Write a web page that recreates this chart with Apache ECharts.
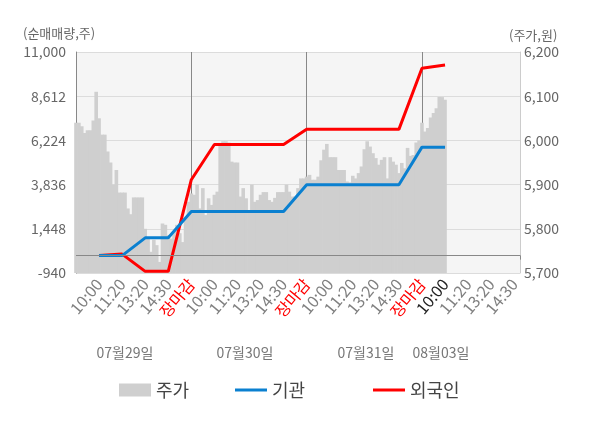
<!DOCTYPE html>
<html>
<head>
<meta charset="utf-8">
<script src="https://cdn.jsdelivr.net/npm/echarts@6/dist/echarts.min.js"></script>
<style>
html, body { margin: 0; padding: 0; background: #fff; }
#main { width: 600px; height: 428px; }
</style>
</head>
<body>
<div id="main"></div>
<script>
// slots per trading day on the category axis, tick labels every 8 slots
const slotsPerDay = 40;
const tickLabels = ['10:00', '11:20', '13:20', '14:30', '장마감'];
const dayLabels = ['07월29일', '07월30일', '07월31일', '08월03일'];

// 주가 (won), one value per slot
const price = [
  // 07/29
  6040, 6040, 6032, 6017, 6023, 6023, 6045, 6110, 6050, 6013,
  6013, 5975, 5950, 5900, 5933, 5882, 5882, 5882, 5846, 5833,
  5871, 5871, 5871, 5871, 5800, 5778, 5748, 5775, 5763, 5725,
  5812, 5809, 5786, 5778, 5793, 5809, 5790, 5770, 5823, 5861,
  // 07/30
  5880, 5877, 5900, 5846, 5892, 5831, 5869, 5854, 5877, 5884,
  5990, 5998, 5998, 5995, 5952, 5950, 5950, 5873, 5892, 5869,
  5840, 5900, 5861, 5865, 5877, 5883, 5883, 5865, 5861, 5870,
  5883, 5883, 5883, 5900, 5884, 5873, 5873, 5892, 5914, 5914,
  // 07/31
  5918, 5922, 5911, 5911, 5918, 5955, 5979, 5992, 5962, 5962,
  5962, 5933, 5933, 5933, 5907, 5905, 5920, 5914, 5926, 5941,
  5980, 5998, 5986, 5971, 5960, 5945, 5956, 5962, 5914, 5962,
  5952, 5945, 5926, 5949, 5937, 5983, 5965, 5967, 5995, 6000,
  // 08/03
  6040, 6020, 6028, 6052, 6062, 6073, 6098, 6098, 6092
];

// 순매매량 at each labelled time (10:00, 11:20, 13:20, 14:30, 장마감 ...)
const inst = [0, 0, 960, 960, 2380, 2380, 2380, 2380, 2380, 3830, 3830, 3830, 3830, 3830, 5860, 5860];
const foreign = [0, 80, -850, -850, 4100, 6000, 6000, 6000, 6000, 6820, 6820, 6820, 6820, 6820, 10120, 10300];

const nCat = slotsPerDay * 3 + 35;
const step = slotsPerDay / 5;
const categories = [];
for (let i = 0; i < nCat; i++) {
  categories.push(i > 0 && i % step === 0 ? tickLabels[(i / step - 1) % 5] : '');
}
function spread(vals) {
  const out = new Array(nCat).fill(null);
  vals.forEach((v, j) => { out[step * (j + 1)] = v; });
  return out;
}

const font = '"Noto Sans CJK KR", "Noto Sans", sans-serif';
const legendText = { fontSize: 18, color: '#444' };
const myChart = echarts.init(document.getElementById('main'));
const opts = {
  animation: false,
  textStyle: { fontFamily: font },
  grid: {
    left: 76, right: 80, top: 52, bottom: 155,
    show: true, backgroundColor: '#f5f5f5', borderWidth: 0
  },
  legend: [
    { data: ['주가'], left: 114, top: 376, icon: 'rect', itemWidth: 32, itemHeight: 13, textStyle: legendText },
    { data: ['기관'], left: 230, top: 376, icon: 'rect', itemWidth: 32, itemHeight: 3, textStyle: legendText },
    { data: ['외국인'], left: 368, top: 376, icon: 'rect', itemWidth: 32, itemHeight: 3, textStyle: legendText }
  ],
  xAxis: {
    type: 'category',
    data: categories,
    boundaryGap: false,
    axisLine: { lineStyle: { color: '#888' } },
    axisTick: {
      show: true, length: 4, lineStyle: { color: '#888' },
      interval: (i) => i % slotsPerDay === 0 || i === nCat - 1
    },
    axisLabel: {
      interval: (i, v) => v !== '',
      rotate: 50, fontSize: 16, margin: 8,
      color: (v, idx) => v === '장마감' ? '#ff0000' : (idx === 15 ? '#222' : '#808080')
    },
    splitLine: {
      show: true, lineStyle: { color: '#888' },
      interval: (i) => i > 0 && i % slotsPerDay === 0
    }
  },
  yAxis: [
    {
      type: 'value', position: 'right',
      min: 5700, max: 6200, interval: 100, startValue: 5700,
      axisLine: { show: true, lineStyle: { color: '#ccc' } },
      axisTick: { show: false },
      axisLabel: { fontSize: 14, color: '#666', margin: 4 },
      splitLine: { show: false }
    },
    {
      type: 'value', position: 'left',
      min: -940, max: 11000, alignTicks: true,
      axisLine: { show: true, lineStyle: { color: '#888' } },
      axisTick: { show: false },
      axisLabel: { fontSize: 14, color: '#666', margin: 10 },
      splitLine: { lineStyle: { color: '#dcdcdc' } }
    }
  ],
  graphic: [
    { type: 'text', x: 23, y: 33, style: { text: '(순매매량,주)', textVerticalAlign: 'middle', fontSize: 13, fill: '#666', fontFamily: font } },
    { type: 'text', x: 509, y: 35, style: { text: '(주가,원)', textVerticalAlign: 'middle', fontSize: 13, fill: '#666', fontFamily: font } },
    { type: 'text', x: 125, y: 353, style: { text: dayLabels[0], textAlign: 'center', textVerticalAlign: 'middle', fontSize: 14, fill: '#777', fontFamily: font } },
    { type: 'text', x: 245, y: 353, style: { text: dayLabels[1], textAlign: 'center', textVerticalAlign: 'middle', fontSize: 14, fill: '#777', fontFamily: font } },
    { type: 'text', x: 366, y: 353, style: { text: dayLabels[2], textAlign: 'center', textVerticalAlign: 'middle', fontSize: 14, fill: '#777', fontFamily: font } },
    { type: 'text', x: 441, y: 353, style: { text: dayLabels[3], textAlign: 'center', textVerticalAlign: 'middle', fontSize: 14, fill: '#777', fontFamily: font } }
  ],
  series: [
    {
      name: '주가', type: 'bar', yAxisIndex: 0,
      data: price, barWidth: 3.6, clip: true,
      itemStyle: { color: '#cfcfcf' }
    },
    {
      name: '기관', type: 'line', yAxisIndex: 1, z: 4,
      data: spread(inst), connectNulls: true,
      symbol: 'none', showSymbol: false,
      lineStyle: { color: '#0b80d0', width: 3 },
      itemStyle: { color: '#0b80d0' },
      markLine: {
        silent: true, symbol: ['none', 'none'],
        label: { show: false },
        lineStyle: { color: '#888', type: 'solid', width: 1 },
        data: [{ yAxis: 0 }]
      }
    },
    {
      name: '외국인', type: 'line', yAxisIndex: 1, z: 3,
      data: spread(foreign), connectNulls: true,
      symbol: 'none', showSymbol: false,
      lineStyle: { color: '#ff0000', width: 3 },
      itemStyle: { color: '#ff0000' }
    }
  ]
};
myChart.setOption(opts);
</script>
</body>
</html>
